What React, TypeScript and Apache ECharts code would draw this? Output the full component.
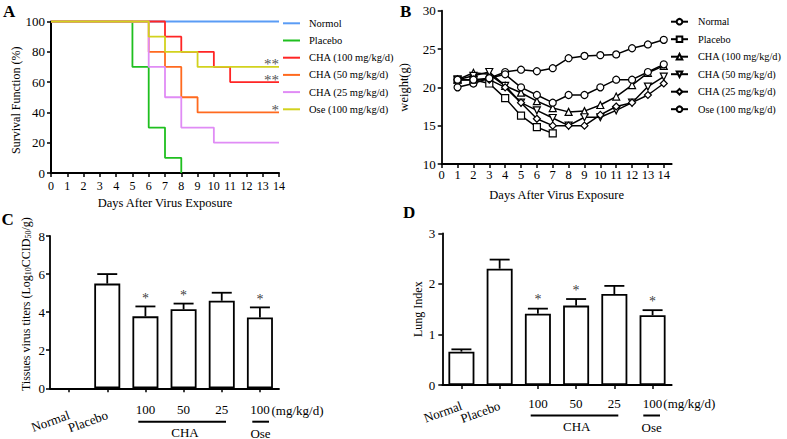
import React, { useEffect, useRef } from 'react';
import * as echarts from 'echarts';

const FONT = '"Liberation Serif", "Times New Roman", serif';

// ---------- Panel A: survival (step points: [day, %]) ----------
const survNames = ['Normol', 'Placebo', 'CHA (100 mg/kg/d)', 'CHA (50 mg/kg/d)', 'CHA (25 mg/kg/d)', 'Ose (100 mg/kg/d)'];
const survColors = ['#5a9cf5', '#1fbf1f', '#ff2525', '#ff6a1f', '#e08cf5', '#d2d21e'];
const survNormol = [[0, 100], [14, 100]];
const survPlacebo = [[0, 100], [5, 70], [6, 30], [7, 10], [8, 0]];
const survCha100 = [[0, 100], [7, 90], [8, 80], [10, 70], [11, 60], [14, 60]];
const survCha50 = [[0, 100], [6, 80], [7, 70], [8, 50], [9, 40], [14, 40]];
const survCha25 = [[0, 100], [6, 70], [7, 50], [8, 30], [10, 20], [14, 20]];
const survOse = [[0, 100], [6, 90], [7, 80], [9, 70], [14, 70]];
const survData = [survNormol, survPlacebo, survCha100, survCha50, survCha25, survOse];

// ---------- Panel B: body weight ----------
const weightNames = ['Normal', 'Placebo', 'CHA (100 mg/kg/d)', 'CHA (50 mg/kg/d)', 'CHA (25 mg/kg/d)', 'Ose (100 mg/kg/d)'];
const weightDays = [1, 2, 3, 4, 5, 6, 7, 8, 9, 10, 11, 12, 13, 14];
const weightNormal = [20.0, 20.5, 21.2, 22.0, 22.3, 22.1, 22.5, 23.8, 24.1, 24.2, 24.3, 25.1, 25.6, 26.2];
const weightPlacebo = [21.0, 21.0, 20.5, 18.6, 16.3, 14.8, 14.0];
const weightCha100 = [21.0, 21.9, 21.7, 20.2, 19.3, 18.2, 17.3, 16.8, 16.9, 17.7, 18.8, 20.3, 21.9, 22.8];
const weightCha50 = [21.0, 21.5, 22.0, 20.2, 18.0, 17.0, 16.0, 15.0, 16.1, 16.1, 17.0, 18.0, 20.1, 21.4];
const weightCha25 = [21.0, 21.0, 21.0, 20.0, 18.0, 15.9, 15.0, 15.0, 15.0, 16.4, 17.5, 18.0, 19.0, 20.5];
const weightOse = [21.0, 21.0, 21.2, 21.7, 20.0, 19.0, 18.0, 19.0, 19.0, 20.0, 21.0, 21.0, 22.0, 23.0];
const weightData = [weightNormal, weightPlacebo, weightCha100, weightCha50, weightCha25, weightOse];
const weightSymbols = ['circle', 'rect', 'triangle', 'path://M0,0L10,0L5,9Z', 'diamond', 'circle'];
const dayTicksB = [0, 1, 2, 3, 4, 5, 6, 7, 8, 9, 10, 11, 12, 13, 14];

// ---------- Panels C & D: bars ----------
const barCats = ['Normal', 'Placebo', 'CHA 100', 'CHA 50', 'CHA 25', 'Ose 100'];
const groupLabels = ['Normal', 'Placebo', '', '', '', ''];
const doseLabels = ['', '', '100', '50', '25', '100'];
const titerMean = [null, 5.5, 3.78, 4.15, 4.6, 3.72];
const titerUpper = [null, 6.0, 4.3, 4.45, 5.02, 4.25];
const lungMean = [0.66, 2.3, 1.41, 1.57, 1.8, 1.38];
const lungUpper = [0.705, 2.48, 1.51, 1.7, 1.96, 1.48];
const sigMarks = ['', '', '*', '*', '', '*'];

const stripName = (n: string) => n.split('|')[1];

const axisLineStyle = { show: true, lineStyle: { color: '#000', width: 1.8 } };
const tickStyle = { show: true, inside: false, length: 4, lineStyle: { color: '#000', width: 1.5 } };
const labelBase = { color: '#000', fontFamily: FONT };

const errData = (means: (number | null)[], ups: (number | null)[]) =>
  means.map((m, i) => (m == null ? null : [i, m, ups[i]])).filter(Boolean);

const starData = (ups: (number | null)[]) =>
  ups.map((u, i) => (sigMarks[i] && u != null ? [i, u] : null)).filter(Boolean);

const errRender = (params: any, api: any) => {
  const i = api.value(0);
  const base = api.coord([i, api.value(1)]);
  const top = api.coord([i, api.value(2)]);
  const half = 10;
  return {
    type: 'group',
    children: [
      { type: 'line', shape: { x1: top[0], y1: base[1], x2: top[0], y2: top[1] }, style: { stroke: '#000', lineWidth: 1.8 } },
      { type: 'line', shape: { x1: top[0] - half, y1: top[1], x2: top[0] + half, y2: top[1] }, style: { stroke: '#000', lineWidth: 1.8 } },
    ],
  };
};

const txt = (text: string, x: number, y: number, size = 13, align = 'left', weight = 'normal', fill = '#000') => ({
  type: 'text',
  x,
  y,
  silent: true,
  style: { text, fill, fontSize: size, fontFamily: FONT, fontWeight: weight, align, verticalAlign: 'middle' },
});
const hline = (x1: number, x2: number, y: number) => ({
  type: 'line',
  silent: true,
  shape: { x1, y1: y, x2, y2: y },
  style: { stroke: '#000', lineWidth: 2 },
});

const buildOption = () => {
  const survSeries = survNames.map((n, k) => ({
    name: 'A|' + n,
    type: 'line',
    xAxisIndex: 0,
    yAxisIndex: 0,
    step: 'end',
    symbol: 'none',
    clip: false,
    data: survData[k],
    itemStyle: { color: survColors[k] },
    lineStyle: { color: survColors[k], width: 1.8 },
    z: 2 + k,
  }));

  const weightSeries = weightNames.map((n, k) => ({
    name: 'B|' + n,
    type: 'line',
    xAxisIndex: 1,
    yAxisIndex: 1,
    symbol: weightSymbols[k],
    symbolSize: 7,
    data: weightData[k].map((v, i) => [weightDays[i], v]),
    itemStyle: { color: '#fff', borderColor: '#000', borderWidth: 1.2 },
    lineStyle: { color: '#000', width: 1.5 },
    z: 2 + k,
  }));

  const barStyle = { color: '#fff', borderColor: '#000', borderWidth: 1.8 };

  const starSeries = (xIdx: number, yIdx: number, ups: (number | null)[], dist: number) => ({
    name: 'stars' + xIdx,
    type: 'scatter',
    xAxisIndex: xIdx,
    yAxisIndex: yIdx,
    symbolSize: 0,
    itemStyle: { color: '#000' },
    data: starData(ups),
    label: {
      show: true,
      position: 'top',
      distance: dist,
      formatter: (p: any) => sigMarks[p.value[0]],
      color: '#000',
      fontSize: 14,
      fontFamily: FONT,
    },
    z: 6,
  });

  const catAxisMain = (grid: number, margin: number) => ({
    type: 'category',
    gridIndex: grid,
    data: barCats,
    boundaryGap: true,
    axisLine: axisLineStyle,
    axisTick: { ...tickStyle, alignWithLabel: true, interval: 0 },
    axisLabel: {
      ...labelBase,
      fontSize: 13,
      interval: 0,
      rotate: 20,
      margin,
      formatter: (_v: string, i: number) => groupLabels[i],
    },
    splitLine: { show: false },
  });
  const catAxisDose = (grid: number, margin: number) => ({
    type: 'category',
    gridIndex: grid,
    data: barCats,
    position: 'bottom',
    boundaryGap: true,
    axisLine: { show: false },
    axisTick: { show: false },
    axisLabel: {
      ...labelBase,
      fontSize: 13,
      interval: 0,
      margin,
      formatter: (_v: string, i: number) => doseLabels[i],
    },
    splitLine: { show: false },
  });

  return {
    animation: false,
    backgroundColor: '#fff',
    textStyle: { fontFamily: FONT },
    grid: [
      { left: 51, top: 21.5, width: 228, height: 151.5, outerBoundsMode: 'none' },
      { left: 441.7, top: 10.7, width: 230, height: 153.3, outerBoundsMode: 'none' },
      { left: 50, top: 236, width: 229, height: 152.3, outerBoundsMode: 'none' },
      { left: 442.3, top: 233.3, width: 229.4, height: 151.7, outerBoundsMode: 'none' },
    ],
    legend: [
      {
        data: survNames.map((n) => 'A|' + n),
        formatter: stripName,
        orient: 'vertical',
        left: 283,
        top: 17.2,
        padding: 0,
        itemWidth: 17,
        itemHeight: 2,
        icon: 'rect',
        itemGap: 5,
        selectedMode: false,
        textStyle: { color: '#000', fontFamily: FONT, fontSize: 10.5, lineHeight: 12.2, padding: [0, 0, 0, 4] },
      },
      {
        data: weightNames.map((n) => 'B|' + n),
        formatter: stripName,
        orient: 'vertical',
        left: 670,
        top: 15.7,
        padding: 0,
        itemWidth: 17,
        itemHeight: 7,
        itemGap: 5.5,
        selectedMode: false,
        textStyle: { color: '#000', fontFamily: FONT, fontSize: 10.3, lineHeight: 12, padding: [0, 0, 0, 5] },
      },
    ],
    xAxis: [
      {
        type: 'value',
        gridIndex: 0,
        min: 0,
        max: 14,
        interval: 1,
        name: 'Days After Virus Exposure',
        nameLocation: 'middle',
        nameGap: 23,
        nameTextStyle: { ...labelBase, fontSize: 12.5 },
        axisLine: { ...axisLineStyle, lineStyle: { color: '#000', width: 2 } },
        axisTick: tickStyle,
        axisLabel: { ...labelBase, fontSize: 12, margin: 7 },
        splitLine: { show: false },
      },
      {
        type: 'value',
        gridIndex: 1,
        min: 0,
        max: 14.5,
        interval: 1,
        name: 'Days After Virus Exposure',
        nameLocation: 'middle',
        nameGap: 24,
        nameTextStyle: { ...labelBase, fontSize: 12.5 },
        axisLine: axisLineStyle,
        axisTick: { ...tickStyle, customValues: dayTicksB },
        axisLabel: {
          ...labelBase,
          fontSize: 12.5,
          margin: 4,
          customValues: dayTicksB,
          formatter: (v: number) => (Number.isInteger(v) ? String(v) : ''),
        },
        splitLine: { show: false },
      },
      catAxisMain(2, 26),
      catAxisDose(2, 15),
      catAxisMain(3, 20),
      catAxisDose(3, 12),
    ],
    yAxis: [
      {
        type: 'value',
        gridIndex: 0,
        min: 0,
        max: 100,
        interval: 20,
        name: 'Survival Function (%)',
        nameLocation: 'middle',
        nameGap: 25,
        nameTextStyle: { ...labelBase, fontSize: 12, padding: [0, 6, 0, 0] },
        axisLine: { ...axisLineStyle, lineStyle: { color: '#000', width: 2 } },
        axisTick: tickStyle,
        axisLabel: { ...labelBase, fontSize: 13, margin: 6 },
        splitLine: { show: false },
      },
      {
        type: 'value',
        gridIndex: 1,
        min: 10,
        max: 30,
        interval: 5,
        name: 'weight(g)',
        nameLocation: 'middle',
        nameGap: 31,
        nameTextStyle: { ...labelBase, fontSize: 12.5 },
        axisLine: axisLineStyle,
        axisTick: tickStyle,
        axisLabel: { ...labelBase, fontSize: 13, margin: 6 },
        splitLine: { show: false },
      },
      {
        type: 'value',
        gridIndex: 2,
        min: 0,
        max: 8,
        interval: 2,
        name: 'Tissues virus titers (Log{sub|10}CCID{sub|50}/g)',
        nameLocation: 'middle',
        nameGap: 18,
        nameTextStyle: {
          ...labelBase,
          fontSize: 12,
          padding: [0, 0, 0, 16],
          rich: { sub: { fontSize: 8, fontFamily: FONT, color: '#000', verticalAlign: 'bottom' } },
        },
        axisLine: axisLineStyle,
        axisTick: tickStyle,
        axisLabel: { ...labelBase, fontSize: 13, margin: 5 },
        splitLine: { show: false },
      },
      {
        type: 'value',
        gridIndex: 3,
        min: 0,
        max: 3,
        interval: 1,
        name: 'Lung Index',
        nameLocation: 'middle',
        nameGap: 18,
        nameTextStyle: { ...labelBase, fontSize: 12 },
        axisLine: axisLineStyle,
        axisTick: tickStyle,
        axisLabel: { ...labelBase, fontSize: 13, margin: 7 },
        splitLine: { show: false },
      },
    ],
    series: [
      ...survSeries,
      ...weightSeries,
      { name: 'titer', type: 'bar', xAxisIndex: 2, yAxisIndex: 2, barWidth: 26, data: titerMean, itemStyle: barStyle },
      {
        name: 'titerErr',
        type: 'custom',
        xAxisIndex: 2,
        yAxisIndex: 2,
        renderItem: errRender,
        encode: { x: 0, y: [1, 2] },
        data: errData(titerMean, titerUpper),
        itemStyle: { color: '#000' },
        z: 5,
      },
      starSeries(2, 2, titerUpper, 1),
      { name: 'lung', type: 'bar', xAxisIndex: 4, yAxisIndex: 3, barWidth: 26, data: lungMean, itemStyle: barStyle },
      {
        name: 'lungErr',
        type: 'custom',
        xAxisIndex: 4,
        yAxisIndex: 3,
        renderItem: errRender,
        encode: { x: 0, y: [1, 2] },
        data: errData(lungMean, lungUpper),
        itemStyle: { color: '#000' },
        z: 5,
      },
      starSeries(4, 3, lungUpper, 2),
    ],
    graphic: [
      txt('A', 3, 11, 17, 'left', 'bold'),
      txt('B', 400, 11, 17, 'left', 'bold'),
      txt('C', 1.5, 219, 17, 'left', 'bold'),
      txt('D', 403, 212, 17, 'left', 'bold'),
      txt('**', 279, 64, 15, 'right', 'normal', '#555'),
      txt('**', 279, 79.5, 15, 'right', 'normal', '#555'),
      txt('*', 279, 109.5, 15, 'right', 'normal', '#555'),
      txt('(mg/kg/d)', 271.5, 410, 13),
      hline(138.3, 226, 421.7),
      hline(252.3, 269, 421.7),
      txt('CHA', 185, 432.5, 13, 'center'),
      txt('Ose', 260.5, 433, 13, 'center'),
      txt('(mg/kg/d)', 663.3, 403.3, 13),
      hline(530.7, 618.3, 415.5),
      hline(643.3, 660, 415.5),
      txt('CHA', 576.7, 426.7, 13, 'center'),
      txt('Ose', 651.7, 427.7, 13, 'center'),
    ],
  };
};

export default function App() {
  const ref = useRef<HTMLDivElement>(null);
  useEffect(() => {
    if (!ref.current) return;
    const chart = echarts.init(ref.current, null, { renderer: 'svg' });
    chart.setOption(buildOption() as any);
    return () => chart.dispose();
  }, []);
  return (
    <div
      ref={ref}
      style={{ position: 'fixed', left: 0, top: 0, width: 787, height: 439, background: '#fff' }}
    />
  );
}
